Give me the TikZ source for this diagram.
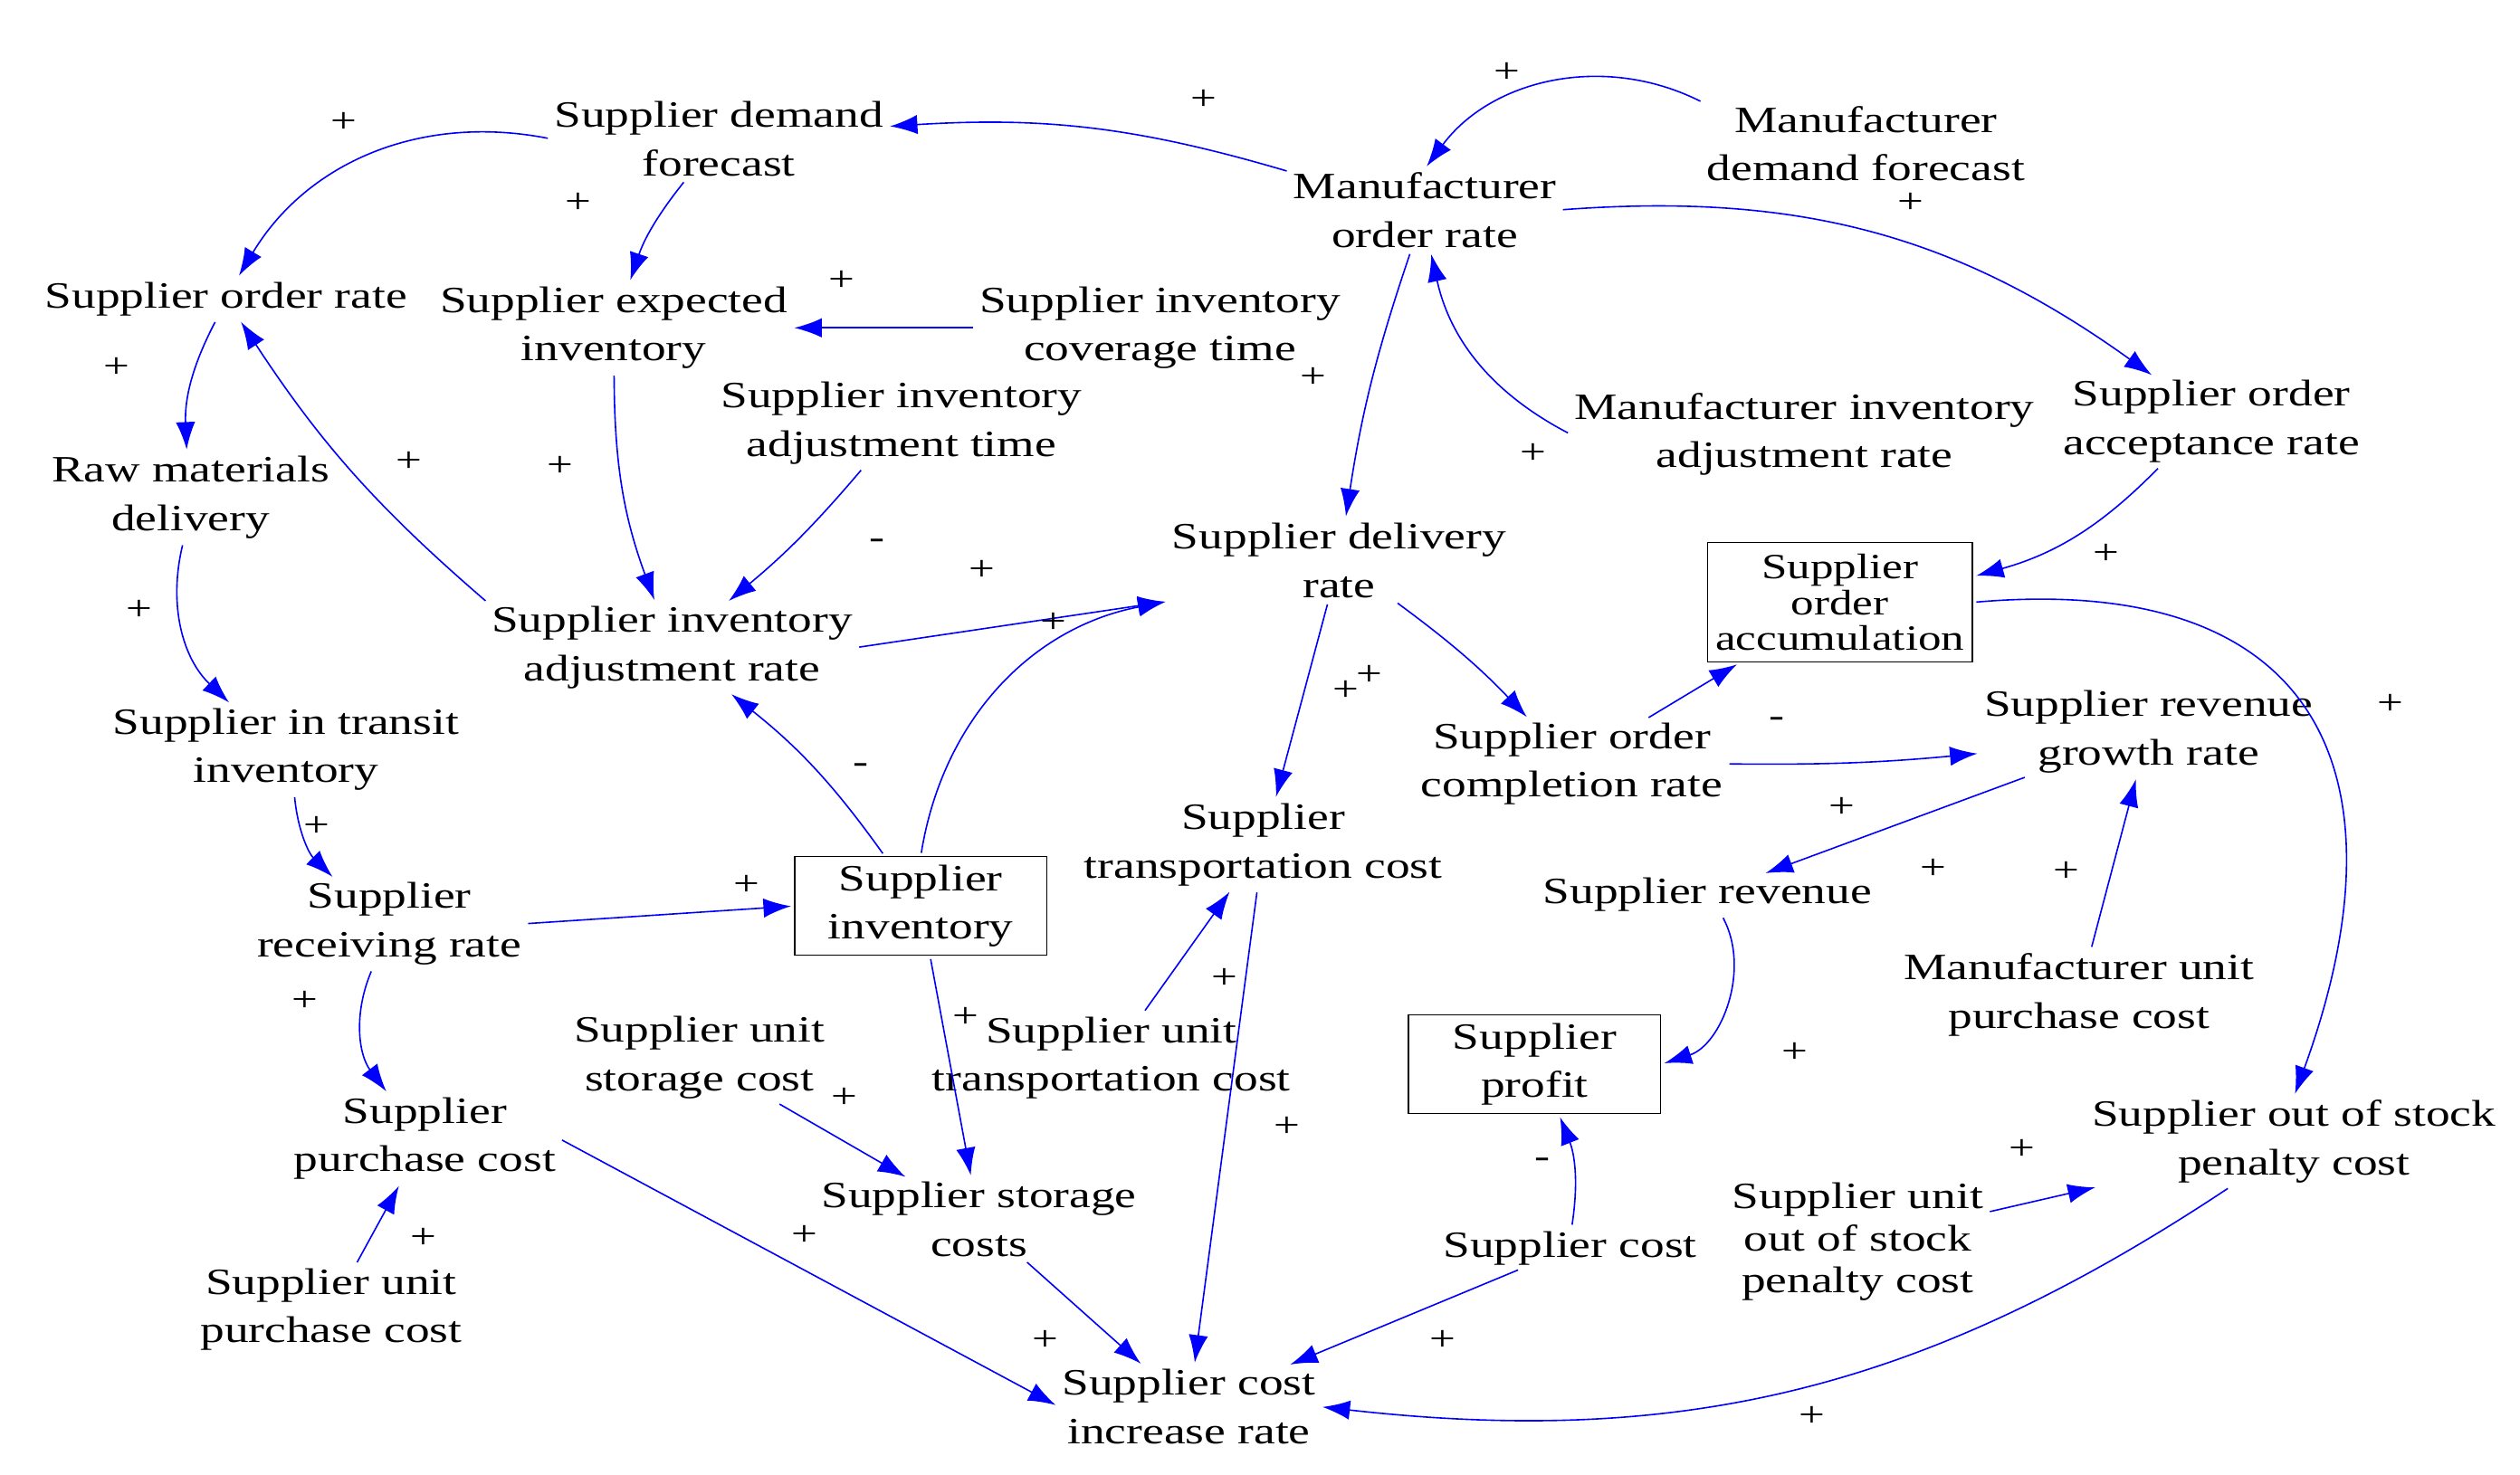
\documentclass[tikz,border=0pt]{standalone}
\usepackage{fontspec}
\setmainfont{Liberation Serif}[FakeStretch=1.3]
\usetikzlibrary{arrows.meta}
\begin{document}
\begin{tikzpicture}[x=1pt,y=-1pt,
  every node/.style={font=\fontsize{23}{30}\selectfont,align=center,inner sep=2pt},
  bx/.style={draw,thick,minimum width=156pt,inner sep=3pt},
  ar/.style={draw=blue,line width=0.9pt,-{Latex[length=17pt,width=12pt]},shorten >=2pt,shorten <=2pt},
  pl/.style={font=\fontsize{22}{22}\selectfont,inner sep=0pt}]
\useasboundingbox (0,0) rectangle (1560,913);
\node (sdf) at (445,86) {Supplier demand\\forecast};
\node (mor) at (882,130) {Manufacturer\\order rate};
\node (mdf) at (1155,89) {Manufacturer\\demand forecast};
\node (sor) at (140,185) {Supplier order rate};
\node (sei) at (380,203) {Supplier expected\\inventory};
\node (sict) at (718,203) {Supplier inventory\\coverage time};
\node (siat) at (558,262) {Supplier inventory\\adjustment time};
\node (miar) at (1117,269) {Manufacturer inventory\\adjustment rate};
\node (soar) at (1369,261) {Supplier order\\acceptance rate};
\node (rmd) at (118,308) {Raw materials\\delivery};
\node (sdr) at (829,347) {Supplier delivery\\rate};
\node[draw,thick,inner sep=1pt,font=\fontsize{22}{22}\selectfont,minimum width=164pt,minimum height=74pt] (soa) at (1139,373) {Supplier\\order\\accumulation};
\node (siar) at (416,401) {Supplier inventory\\adjustment rate};
\node (sitr) at (177,464) {Supplier in transit\\inventory};
\node (socr) at (973,473) {Supplier order\\completion rate};
\node (srgr) at (1330,453) {Supplier revenue\\growth rate};
\node (stc) at (782,523) {Supplier\\transportation cost};
\node (srr) at (241,572) {Supplier\\receiving rate};
\node[bx,minimum height=61pt] (si) at (570,561) {Supplier\\inventory};
\node (srev) at (1057,554) {Supplier revenue};
\node (mupc) at (1287,616) {Manufacturer unit\\purchase cost};
\node (susc) at (433,655) {Supplier unit\\storage cost};
\node (sutc) at (688,655) {Supplier unit\\transportation cost};
\node[bx,minimum height=61pt] (sp) at (950,659) {Supplier\\profit};
\node (spc) at (263,705) {Supplier\\purchase cost};
\node (ssc) at (606,755) {Supplier storage\\costs};
\node (sc) at (972,773) {Supplier cost};
\node[font=\fontsize{23}{26}\selectfont] (suosc) at (1150,769) {Supplier unit\\out of stock\\penalty cost};
\node (soosp) at (1420,707) {Supplier out of stock\\penalty cost};
\node (supc) at (205,811) {Supplier unit\\purchase cost};
\node (scir) at (736,871) {Supplier cost\\increase rate};

\draw[ar] (mor) to[bend right=10] (sdf);
\draw[ar] (sdf.west) to[bend right=35] (sor);
\draw[ar] (sdf) to[bend right=10] (sei);
\draw[ar] (mdf.north west) to[bend right=40] (mor.north);
\draw[ar] (mor.east) to[bend left=20] (soar);
\draw[ar] (sict) -- (sei);
\draw[ar] (mor) to[bend right=5] (sdr);
\draw[ar] (miar.west) to[bend left=25] (mor);
\draw[ar] (sor) to[bend right=15] (rmd);
\draw[ar] (siar.north west) to[bend left=8] (sor);
\draw[ar] (sei) to[bend right=10] (siar);
\draw[ar] (siat) to[bend left=5] (siar);
\draw[ar] (soar) to[bend left=15] (soa);
\draw[ar] (rmd) to[bend right=30] (sitr);
\draw[ar] (siar.east) -- (sdr.south west);
\draw[ar] (si.north) to[bend left=35] (sdr.south west);
\draw[ar] (si) to[bend right=8] (siar);
\draw[ar] (sdr) -- (stc);
\draw[ar] (sdr) to[bend left=5] (socr);
\draw[ar] (socr) -- (soa);
\draw[ar] (socr.east) to[bend right=3] (srgr);
\draw[ar] (srgr) -- (srev);
\draw[ar] (mupc) -- (srgr);
\draw[ar] (soa.east) to[out=5,in=70,looseness=1.5] (soosp.north);
\draw[ar] (sitr) to[bend right=20] (srr);
\draw[ar] (srr.east) -- (si.west);
\draw[ar] (srr) to[bend right=30] (spc);
\draw[ar] (si) -- (ssc);
\draw[ar] (sutc) -- (stc);
\draw[ar] (stc) -- (scir);
\draw[ar] (susc) -- (ssc);
\draw[ar] (srev) to[bend left=50] (sp.east);
\draw[ar] (sc) to[bend right=15] (sp);
\draw[ar] (spc.east) -- (scir.west);
\draw[ar] (supc) -- (spc);
\draw[ar] (ssc) -- (scir);
\draw[ar] (sc) -- (scir);
\draw[ar] (suosc) -- (soosp);
\draw[ar] (soosp) to[bend left=20] (scir.east);

\foreach \p in {(745,62),(213,76),(358,126),(933,45),(1183,126),(521,174),(813,234),(949,281),(72,228),(253,286),(347,289),(86,378),(608,353),(652,386),(833,428),(848,418),(1140,500),(1197,538),(1279,540),(1304,343),(1480,436),(196,512),(462,548),(189,620),(598,630),(758,606),(797,698),(523,680),(1111,652),(498,765),(647,830),(262,767),(893,830),(1252,712),(1122,877)}
  \node[pl] at \p {+};
\foreach \p in {(543,337),(533,476),(1100,447),(955,720)}
  \node[pl] at \p {-};
\end{tikzpicture}
\end{document}
